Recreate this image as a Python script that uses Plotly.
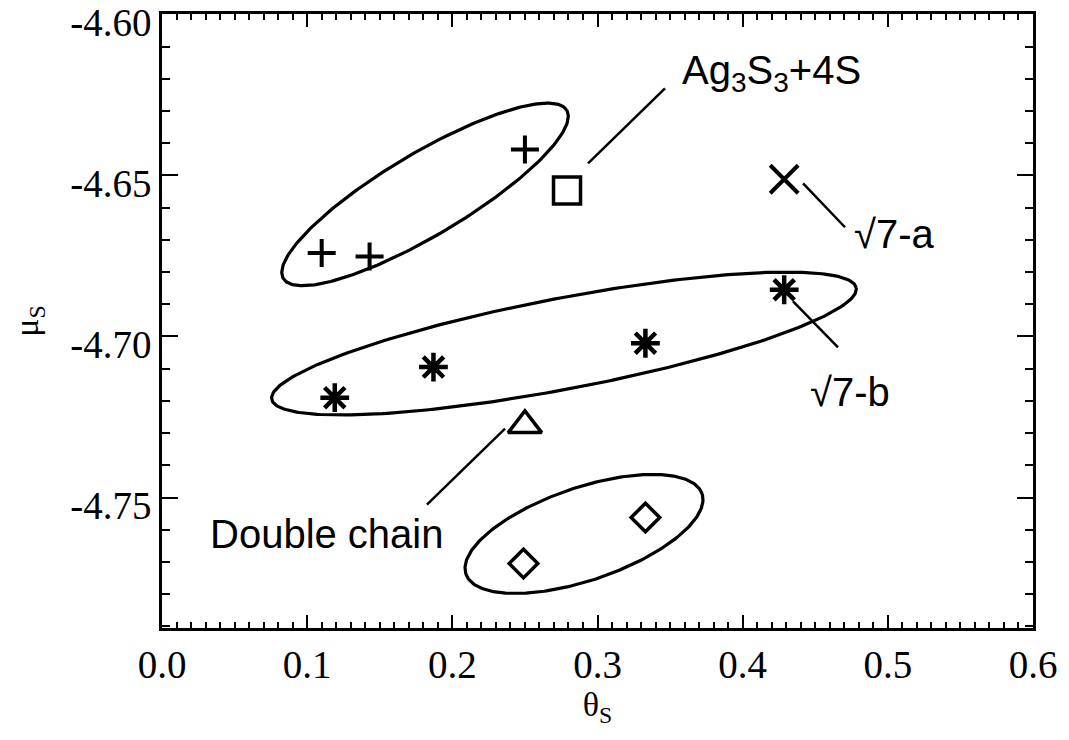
import numpy as np
import plotly.graph_objects as go

# ---------------- data ----------------
plus_theta = [0.110, 0.143, 0.250]
plus_mu = [-4.6741, -4.6752, -4.6420]

square_theta = [0.279]
square_mu = [-4.6547]

x_theta = [0.4286]
x_mu = [-4.6512]

star_theta = [0.119, 0.187, 0.333, 0.4286]
star_mu = [-4.7190, -4.7095, -4.7021, -4.6855]

tri_theta = [0.250]
tri_mu = [-4.7276]

dia_theta = [0.249, 0.333]
dia_mu = [-4.7705, -4.7562]

x_ticks = [0.0, 0.1, 0.2, 0.3, 0.4, 0.5, 0.6]
y_ticks = [-4.75, -4.70, -4.65, -4.60]

# grouping ellipses: centre (data), semi-axes (px), tilt (deg)
ell_cx = [0.1812, 0.2769, 0.2907]
ell_cy = [-4.6559, -4.7022, -4.7613]
ell_a = [164.8, 297.5, 124.7]
ell_b = [41.2, 45.5, 46.4]
ell_ang = [30.7, 10.8, 18.8]

# labels: text, anchor position (data), leader line (data)
lab_text = ["Ag<sub>3</sub>S<sub>3</sub>+4S", "\u221a7-a", "\u221a7-b", "Double chain"]
lab_x = [0.3568, 0.4753, 0.4450, 0.0317]
lab_y = [-4.6183, -4.6683, -4.7171, -4.7612]
lead_x0 = [0.2935, 0.4416, 0.4347, 0.2363]
lead_y0 = [-4.6463, -4.6525, -4.6891, -4.7286]
lead_x1 = [0.3465, 0.4705, 0.4657, 0.1825]
lead_y1 = [-4.6230, -4.6661, -4.7034, -4.7522]

# ---------------- layout geometry ----------------
W, H = 1069, 740
ML, MR, MT, MB = 162, 36, 14, 112
XR = [0.0, 0.6]
YR = [-4.7905, -4.5999]
sx = (W - ML - MR) / (XR[1] - XR[0])
sy = (H - MT - MB) / (YR[1] - YR[0])

fig = go.Figure()

# ellipses
t = np.linspace(0, 2 * np.pi, 300)
for cx, cy, a, b, ang in zip(ell_cx, ell_cy, ell_a, ell_b, ell_ang):
    ph = np.deg2rad(ang)
    dx = a * np.cos(t) * np.cos(ph) - b * np.sin(t) * np.sin(ph)
    dy = a * np.cos(t) * np.sin(ph) + b * np.sin(t) * np.cos(ph)
    fig.add_trace(go.Scatter(x=cx + dx / sx, y=cy + dy / sy, mode="lines",
                             line=dict(color="black", width=3.2), hoverinfo="skip"))

# leader lines
for x0, y0, x1, y1 in zip(lead_x0, lead_y0, lead_x1, lead_y1):
    fig.add_trace(go.Scatter(x=[x0, x1], y=[y0, y1], mode="lines",
                             line=dict(color="black", width=2.5), hoverinfo="skip"))

def mk(x, y, sym, size, lw):
    fig.add_trace(go.Scatter(x=x, y=y, mode="markers",
                             marker=dict(symbol=sym, size=size, color="black",
                                         line=dict(color="black", width=lw))))

mk(plus_theta, plus_mu, "cross-thin", 20, 4)
mk(square_theta, square_mu, "square-open", 27, 3.5)
mk(x_theta, x_mu, "x-thin", 28, 4)
mk(star_theta, star_mu, "asterisk", 24, 4.5)
mk(tri_theta, tri_mu, "triangle-up-open", 29, 3.5)
mk(dia_theta, dia_mu, "diamond-open", 22, 3.5)

for txt, x, y in zip(lab_text, lab_x, lab_y):
    fig.add_annotation(x=x, y=y, text=txt, showarrow=False, xanchor="left", yanchor="middle",
                       font=dict(family="Liberation Sans", size=40, color="black"))

axis_common = dict(showgrid=False, zeroline=False, showline=True, linecolor="black", linewidth=2.5,
                   mirror="allticks", ticks="inside", tickcolor="black", tickwidth=2,
                   ticklabeloverflow="allow",
                   tickfont=dict(family="Liberation Serif", size=39, color="black"))

fig.update_xaxes(range=XR, tickvals=x_ticks, ticktext=[f"{v:.1f}" for v in x_ticks], ticklen=13,
                 minor=dict(dtick=0.01, ticks="inside", ticklen=6, tickwidth=1.5, tickcolor="black"),
                 title=dict(text="\u03b8<sub>S</sub>", font=dict(family="Liberation Serif", size=34, color="black"),
                            standoff=8),
                 **axis_common)
fig.update_yaxes(range=YR, tickvals=y_ticks, ticktext=[f"{v:.2f}" for v in y_ticks], ticklen=16,
                 ticklabelshift=8,
                 minor=dict(dtick=0.01, ticks="inside", ticklen=8, tickwidth=1.5, tickcolor="black"),
                 title=dict(text="\u03bc<sub>S</sub>", font=dict(family="Liberation Serif", size=34, color="black"),
                            standoff=22),
                 **axis_common)

fig.update_layout(width=W, height=H, margin=dict(l=ML, r=MR, t=MT, b=MB, autoexpand=False),
                  plot_bgcolor="white", paper_bgcolor="white", showlegend=False)

fig.write_html("out.html")
